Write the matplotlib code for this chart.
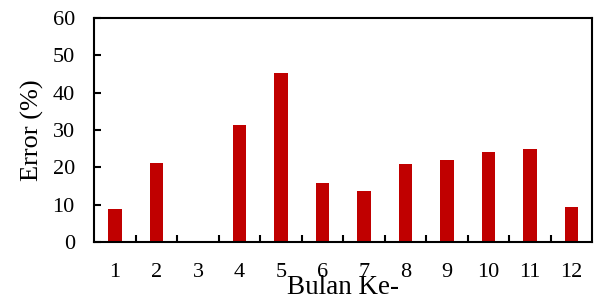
import numpy as np
import matplotlib.pyplot as plt

plt.rcParams['font.family'] = ['Liberation Serif', 'DejaVu Serif']

months = ['1', '2', '3', '4', '5', '6', '7', '8', '9', '10', '11', '12']
error_pct = [8.8, 21.3, 0.0, 31.3, 45.4, 15.9, 13.6, 20.9, 22.1, 24.2, 24.9, 9.4]

fig = plt.figure(figsize=(6, 3), dpi=100)
ax = fig.add_axes([0.157, 0.193, 0.83, 0.747])

x = np.arange(len(months))
ax.bar(x, error_pct, width=0.32, color='#C00000')

ax.set_xlim(-0.5, len(months) - 0.5)
ax.set_ylim(0, 60)
ax.set_yticks([0, 10, 20, 30, 40, 50, 60])

# category labels in the middle, tick marks on the boundaries
ax.set_xticks(x)
ax.set_xticklabels(months)
ax.set_xticks(np.arange(0.5, len(months) - 1, 1.0), minor=True)
ax.tick_params(axis='x', which='major', length=0, pad=15, labelsize=16)
ax.tick_params(axis='x', which='minor', direction='in', length=5, width=1.5)
ax.tick_params(axis='y', direction='in', length=5, width=1.5, labelsize=16, pad=14)

for s in ax.spines.values():
    s.set_linewidth(1.5)

ax.set_ylabel('Error (%)', fontsize=19, labelpad=6)
ax.set_xlabel('Bulan Ke-', fontsize=19.5, labelpad=-5)

plt.savefig('out.png')
